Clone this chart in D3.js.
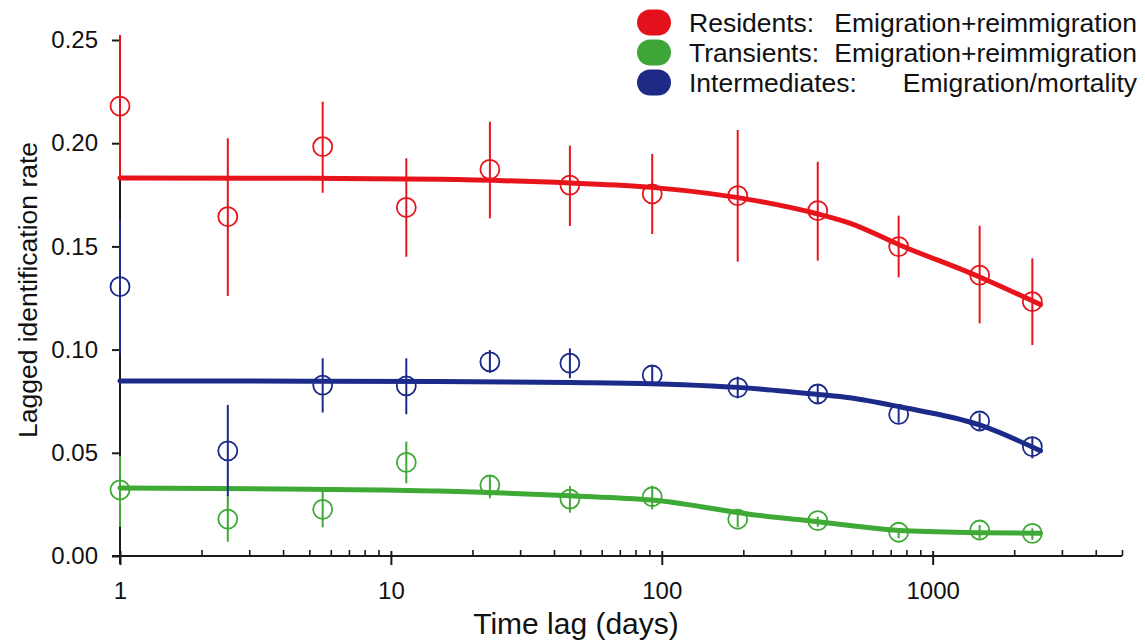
<!DOCTYPE html>
<html>
<head>
<meta charset="utf-8">
<script src="https://cdn.jsdelivr.net/npm/d3@7"></script>
<style>
  html, body { margin: 0; padding: 0; background: #fff; }
  svg { display: block; font-family: "Liberation Sans", Arial, sans-serif; }
</style>
</head>
<body>
<svg id="chart" width="1145" height="640"></svg>
<script>
// ---------- data ----------
const lags = [1, 2.5, 5.6, 11.4, 23.2, 45.8, 92.2, 190.7, 376.5, 749, 1491, 2333];

const residentsRate = [0.218, 0.1644, 0.1983, 0.1689, 0.1873, 0.1797, 0.1754, 0.1746, 0.1673, 0.1499, 0.1361, 0.1232];
const residentsLow  = [0.183, 0.126, 0.176, 0.145, 0.1636, 0.1599, 0.156, 0.1426, 0.1431, 0.135, 0.1127, 0.1022];
const residentsHigh = [0.2524, 0.2024, 0.2201, 0.1927, 0.2104, 0.1988, 0.1948, 0.2064, 0.191, 0.1649, 0.16, 0.1442];

const intermediatesRate = [0.1305, 0.0509, 0.0828, 0.0824, 0.0941, 0.0934, 0.0877, 0.0816, 0.0785, 0.0686, 0.0654, 0.0530];
const intermediatesLow  = [0.098, 0.029, 0.0695, 0.0687, 0.0887, 0.0861, 0.0837, 0.0764, 0.0740, 0.0646, 0.0610, 0.0473];
const intermediatesHigh = [0.163, 0.0732, 0.0958, 0.0958, 0.0998, 0.1006, 0.0925, 0.0869, 0.0828, 0.0727, 0.0691, 0.0578];

const transientsRate = [0.032, 0.0179, 0.0226, 0.0454, 0.0344, 0.0276, 0.0287, 0.0178, 0.0171, 0.0115, 0.0126, 0.011];
const transientsLow  = [0.0142, 0.0069, 0.0139, 0.0352, 0.028, 0.021, 0.0226, 0.014, 0.0142, 0.0086, 0.0086, 0.0078];
const transientsHigh = [0.0484, 0.0296, 0.031, 0.0554, 0.0392, 0.0339, 0.0341, 0.0223, 0.019, 0.0134, 0.015, 0.0134];

// fitted model curves
const fitLags = [1, 5, 15, 46, 92, 230, 377, 494, 755, 1490, 2500];
const residentsFit     = [0.1831, 0.1830, 0.1825, 0.1807, 0.1786, 0.1718, 0.1657, 0.1613, 0.1507, 0.1352, 0.1218];
const intermediatesFit = [0.0848, 0.0847, 0.0845, 0.0840, 0.0834, 0.0809, 0.0783, 0.0767, 0.0723, 0.0635, 0.0510];
const transientsFit    = [0.0330, 0.0324, 0.0315, 0.0292, 0.0271, 0.0196, 0.0166, 0.0148, 0.0123, 0.0113, 0.0110];

const yTicks = [0, 0.05, 0.10, 0.15, 0.20, 0.25];
const xMajorTicks = [1, 10, 100, 1000];
const xMinorTicks = [2,3,4,5,6,7,8,9,20,30,40,50,60,70,80,90,200,300,400,500,600,700,800,900,2000,3000,4000,5000];

const legendGroups = ["Residents:", "Transients:", "Intermediates:"];
const legendModels = ["Emigration+reimmigration", "Emigration+reimmigration", "Emigration/mortality"];

const xLabel = "Time lag (days)";
const yLabel = "Lagged identification rate";

// ---------- styling ----------
const colors = { res: "#e8141c", tra: "#3ea935", int: "#1c2a8a" };
const legendColors = ["#e3111c", "#3ea537", "#1d2a86"];

const svg = d3.select("#chart");
const x = d3.scaleLog().domain([1, 5000]).range([120, 1122]);
const y = d3.scaleLinear().domain([0, 0.25]).range([556, 40]);

// ---------- axes ----------
const axisColor = "#1a1a1a";

// y axis
const yAxis = svg.append("g").attr("transform", "translate(120,0)")
  .call(d3.axisLeft(y).tickValues(yTicks).tickFormat(d3.format(".2f")).tickSize(8).tickSizeOuter(0).tickPadding(14));
yAxis.select(".domain").attr("stroke", axisColor).attr("stroke-width", 2)
  .attr("d", `M0,${y(0.25)}V${y(0) + 8}`);
yAxis.selectAll(".tick line").attr("stroke", axisColor).attr("stroke-width", 2);
yAxis.selectAll(".tick text").attr("font-size", 24).attr("fill", "#111")
  .attr("font-family", '"Liberation Sans", Arial, sans-serif');

// x axis: major ticks
const xAxis = svg.append("g").attr("transform", `translate(0,${y(0)})`)
  .call(d3.axisBottom(x).tickValues(xMajorTicks).tickFormat(d3.format("d")).tickSize(9).tickSizeOuter(0).tickPadding(17));
xAxis.select(".domain").attr("stroke", axisColor).attr("stroke-width", 2)
  .attr("d", `M112,0H${x(5000)}`);
xAxis.selectAll(".tick line").attr("stroke", axisColor).attr("stroke-width", 2).attr("y1", -5);
xAxis.selectAll(".tick text").attr("font-size", 24).attr("fill", "#111")
  .attr("font-family", '"Liberation Sans", Arial, sans-serif');

// x axis: minor ticks
const xMinor = svg.append("g").attr("transform", `translate(0,${y(0)})`)
  .call(d3.axisBottom(x).tickValues(xMinorTicks).tickFormat("").tickSize(-6).tickSizeOuter(0));
xMinor.select(".domain").remove();
xMinor.selectAll(".tick line").attr("stroke", axisColor).attr("stroke-width", 1.6);

// axis titles
svg.append("text").attr("x", 576).attr("y", 634).attr("text-anchor", "middle")
  .attr("font-size", 30).attr("fill", "#111").text(xLabel);
svg.append("text").attr("transform", `translate(37,${(143 + 437) / 2}) rotate(-90)`)
  .attr("text-anchor", "middle").attr("font-size", 26.5).attr("fill", "#111").text(yLabel);

// ---------- series ----------
const series = [
  { key: "tra", rate: transientsRate, low: transientsLow, high: transientsHigh, fit: transientsFit },
  { key: "int", rate: intermediatesRate, low: intermediatesLow, high: intermediatesHigh, fit: intermediatesFit },
  { key: "res", rate: residentsRate, low: residentsLow, high: residentsHigh, fit: residentsFit },
];

const line = d3.line().x(d => x(d[0])).y(d => y(d[1])).curve(d3.curveMonotoneX);

series.forEach(s => {
  const g = svg.append("g");
  const c = colors[s.key];
  const pts = lags.map((l, i) => ({ l, v: s.rate[i], lo: s.low[i], hi: s.high[i] }));
  g.selectAll("line.err").data(pts).join("line").attr("class", "err")
    .attr("x1", d => x(d.l)).attr("x2", d => x(d.l))
    .attr("y1", d => y(d.lo)).attr("y2", d => y(d.hi))
    .attr("stroke", c).attr("stroke-width", 2);
  g.selectAll("circle").data(pts).join("circle")
    .attr("cx", d => x(d.l)).attr("cy", d => y(d.v)).attr("r", 9.5)
    .attr("fill", "none").attr("stroke", c).attr("stroke-width", 1.8);
  g.append("path").datum(fitLags.map((l, i) => [l, s.fit[i]]))
    .attr("d", line).attr("fill", "none").attr("stroke", c)
    .attr("stroke-width", 5).attr("stroke-linecap", "round").attr("stroke-linejoin", "round");
});

// ---------- legend ----------
const legend = svg.append("g");
const legendY = [22.5, 52.5, 82.5];
legendGroups.forEach((name, i) => {
  legend.append("rect").attr("x", 637).attr("y", legendY[i] - 13).attr("width", 34).attr("height", 26)
    .attr("rx", 13).attr("ry", 13).attr("fill", legendColors[i]);
  legend.append("text").attr("x", 689).attr("y", legendY[i]).attr("dy", "0.35em")
    .attr("font-size", 26.5).attr("fill", "#111").text(name);
  legend.append("text").attr("x", 1137).attr("y", legendY[i]).attr("dy", "0.35em")
    .attr("text-anchor", "end").attr("font-size", 26.5).attr("fill", "#111").text(legendModels[i]);
});
</script>
</body>
</html>
